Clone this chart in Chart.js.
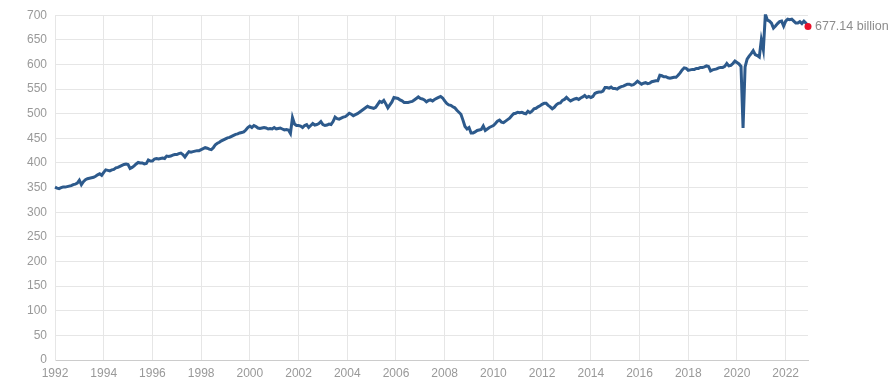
<!DOCTYPE html>
<html>
<head>
<meta charset="utf-8">
<script src="https://cdn.jsdelivr.net/npm/chart.js@4"></script>
<style>
  html, body { margin: 0; padding: 0; background: #fff; }
  #wrap { width: 890px; height: 384px; }
</style>
</head>
<body>
<div id="wrap"><canvas id="salesChart"></canvas></div>
<script>
// monthly values, Jan 1992 .. Dec 2022 (billions)
const startYear = 1992;
const sales = [
    351, 349, 348, 350, 351, 351, 352, 353, 354, 356, 357, 359, // 1992
    365, 356, 362, 366, 368, 369, 370, 371, 373, 376, 378, 375, // 1993
    381, 386, 385, 384, 386, 387, 390, 391, 393, 395, 397, 398, // 1994
    397, 389, 391, 394, 398, 401, 400, 400, 398, 399, 406, 404, // 1995
    404, 408, 409, 408, 409, 410, 409, 414, 413, 414, 416, 417, // 1996
    417, 419, 420, 417, 412, 418, 423, 422, 423, 424, 425, 425, // 1997
    427, 429, 431, 430, 428, 427, 431, 437, 440, 442, 445, 447, // 1998
    449, 451, 452, 454, 456, 458, 459, 461, 462, 463, 467, 472, // 1999
    475, 472, 476, 474, 471, 470, 471, 472, 471, 469, 470, 469, // 2000
    472, 469, 470, 471, 469, 467, 468, 467, 460, 492, 479, 476, // 2001
    476, 475, 472, 476, 478, 472, 476, 480, 477, 478, 480, 484, // 2002
    478, 476, 477, 479, 478, 484, 493, 490, 489, 491, 493, 494, // 2003
    497, 501, 499, 496, 498, 500, 503, 506, 509, 512, 515, 513, // 2004
    512, 511, 513, 519, 525, 523, 527, 520, 512, 518, 524, 533, // 2005
    532, 531, 528, 526, 523, 523, 523, 524, 525, 528, 531, 534, // 2006
    531, 530, 528, 524, 527, 528, 526, 529, 531, 533, 535, 532, // 2007
    526, 521, 518, 517, 514, 512, 507, 503, 499, 487, 474, 469, // 2008
    472, 461, 461, 463, 466, 467, 468, 475, 466, 469, 472, 474, // 2009
    476, 480, 485, 487, 483, 482, 485, 488, 491, 496, 500, 501, // 2010
    503, 502, 503, 501, 500, 505, 502, 505, 510, 511, 514, 516, // 2011
    519, 521, 521, 517, 514, 510, 513, 518, 521, 522, 527, 529, // 2012
    533, 529, 526, 528, 530, 531, 529, 532, 534, 537, 533, 535, // 2013
    533, 535, 541, 543, 544, 544, 546, 553, 553, 552, 554, 551, // 2014
    551, 550, 553, 555, 556, 558, 560, 560, 558, 559, 562, 566, // 2015
    563, 560, 562, 563, 561, 562, 565, 566, 567, 567, 578, 577, // 2016
    575, 575, 573, 572, 573, 574, 574, 578, 583, 589, 593, 592, // 2017
    588, 589, 590, 590, 592, 592, 594, 594, 595, 597, 596, 587, // 2018
    589, 590, 591, 593, 594, 594, 596, 602, 597, 598, 602, 607, // 2019
    604, 601, 596, 471, 595, 611, 617, 622, 628, 620, 618, 615, // 2020
    650, 630, 702, 690, 688, 684, 674, 678, 683, 687, 688, 678, // 2021
    688, 692, 691, 692, 688, 684, 684, 687, 683, 688, 684, 677.14 // 2022
];
const lastLabel = '677.14 billion';
const yTicks = { min: 0, max: 700, step: 50 };
const xTickStep = 2;

const points = sales.map((v, i) => ({ x: startYear + i / 12, y: v }));
const lastIndex = sales.length - 1;

const fontFamily = '"Liberation Sans", Arial, sans-serif';
const tickColor = '#999999';
const gridColor = '#e6e6e6';

// label next to the last point
const lastValueLabel = {
    id: 'lastValueLabel',
    afterDatasetsDraw(chart) {
        const pt = chart.getDatasetMeta(0).data[lastIndex];
        if (!pt) return;
        const ctx = chart.ctx;
        ctx.save();
        ctx.font = '12.5px ' + fontFamily;
        ctx.fillStyle = '#8c8c8c';
        ctx.textBaseline = 'middle';
        ctx.textAlign = 'left';
        ctx.fillText(lastLabel, pt.x + 7, pt.y);
        ctx.restore();
    }
};

const ctx = document.getElementById('salesChart').getContext('2d');
new Chart(ctx, {
    type: 'line',
    data: {
        datasets: [
            {
                data: points,
                borderColor: '#2d5a8c',
                borderWidth: 3,
                tension: 0,
                pointRadius: points.map((p, i) => i === lastIndex ? 3.5 : 0),
                pointBackgroundColor: '#e8102a',
                pointBorderWidth: 0,
                clip: { left: 2, top: 1, right: 6, bottom: 2 },
                fill: false
            }
        ]
    },
    options: {
        responsive: true,
        maintainAspectRatio: false,
        animation: false,
        layout: {
            padding: { top: 10, right: 82, bottom: 0, left: 0 }
        },
        plugins: {
            legend: { display: false },
            tooltip: { enabled: false }
        },
        scales: {
            x: {
                type: 'linear',
                min: startYear,
                max: startYear + lastIndex / 12,
                grid: { color: gridColor, drawTicks: false },
                border: { color: '#cccccc' },
                ticks: {
                    stepSize: xTickStep,
                    includeBounds: false,
                    padding: 6,
                    color: tickColor,
                    font: { family: fontFamily, size: 12 },
                    maxRotation: 0,
                    callback: v => String(v)
                },
                afterFit: scale => { scale.height = 24; }
            },
            y: {
                min: yTicks.min,
                max: yTicks.max,
                grid: { color: gridColor, drawTicks: false },
                border: { color: gridColor },
                ticks: {
                    stepSize: yTicks.step,
                    padding: 8,
                    color: tickColor,
                    font: { family: fontFamily, size: 12 }
                },
                afterFit: scale => { scale.width = 55; }
            }
        }
    },
    plugins: [lastValueLabel]
});
</script>
</body>
</html>
